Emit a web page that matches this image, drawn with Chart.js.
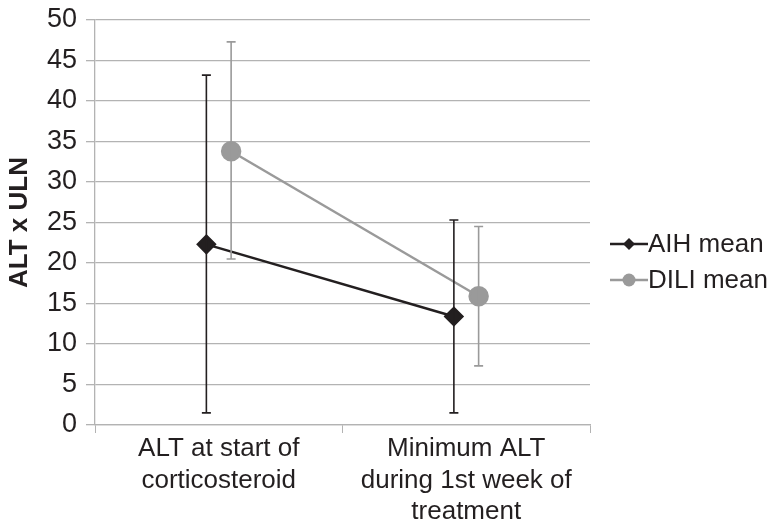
<!DOCTYPE html>
<html><head><meta charset="utf-8">
<script src="https://cdn.jsdelivr.net/npm/chart.js@4"></script>
<style>html,body{margin:0;padding:0;background:#fff}#wrap{width:776px;height:524px}</style>
</head><body><div id="wrap"><canvas id="c" width="776" height="524"></canvas></div>
<script>
const categories = [['ALT at start of', 'corticosteroid'], ['Minimum ALT', 'during 1st week of', 'treatment']];
const seriesNames = ['AIH mean', 'DILI mean'];
const aihMean = [22.3, 13.4];
const aihLow = [1.5, 1.5];
const aihHigh = [43.2, 25.3];
const diliMean = [33.8, 15.9];
const diliLow = [20.5, 7.3];
const diliHigh = [47.3, 24.5];
const yTicks = [0, 5, 10, 15, 20, 25, 30, 35, 40, 45, 50];

const shift = 0.05;
const FONT = '"Liberation Sans", Arial, sans-serif';
const TXT = '#231f20';
const GRID = '#b3b3b3';

function pts(vals, dx) { return vals.map((v, i) => ({x: i + 0.5 + dx, y: v})); }

const errorBars = {
  id: 'errorBars',
  afterDatasetsDraw(chart) {
    const ctx = chart.ctx, xs = chart.scales.xl, ys = chart.scales.y;
    const sets = [[aihLow, aihHigh, -shift, '#231f20'], [diliLow, diliHigh, shift, '#9a9a9a']];
    ctx.save();
    sets.forEach(([lo, hi, dx, col]) => {
      ctx.strokeStyle = col; ctx.lineWidth = 1.6;
      lo.forEach((l, i) => {
        const x = xs.getPixelForValue(i + 0.5 + dx);
        const y1 = ys.getPixelForValue(l), y2 = ys.getPixelForValue(hi[i]);
        ctx.beginPath();
        ctx.moveTo(x, y1); ctx.lineTo(x, y2);
        ctx.moveTo(x - 4.5, y1); ctx.lineTo(x + 4.5, y1);
        ctx.moveTo(x - 4.5, y2); ctx.lineTo(x + 4.5, y2);
        ctx.stroke();
      });
    });
    ctx.restore();
  }
};

const customLegend = {
  id: 'customLegend',
  afterDraw(chart) {
    const ctx = chart.ctx;
    const x0 = 610, ys = [244, 280];
    ctx.save();
    chart.data.datasets.forEach((ds, i) => {
      const y = ys[i];
      const cx = x0 + 19;
      ctx.strokeStyle = ds.borderColor; ctx.lineWidth = 2.5;
      ctx.beginPath(); ctx.moveTo(x0, y); ctx.lineTo(x0 + 38, y); ctx.stroke();
      ctx.fillStyle = ds.pointBackgroundColor;
      ctx.beginPath();
      if (i === 0) { ctx.moveTo(cx, y - 6); ctx.lineTo(cx + 6, y); ctx.lineTo(cx, y + 6); ctx.lineTo(cx - 6, y); ctx.closePath(); }
      else { ctx.arc(cx, y, 6.5, 0, Math.PI * 2); }
      ctx.fill();
      ctx.fillStyle = TXT; ctx.font = '26px ' + FONT; ctx.textBaseline = 'middle'; ctx.textAlign = 'left';
      ctx.fillText(seriesNames[i], x0 + 38, y + 1);
    });
    ctx.restore();
  }
};

new Chart(document.getElementById('c'), {
  type: 'line',
  data: {
    labels: categories,
    datasets: [
      {label: seriesNames[0], data: pts(aihMean, -shift), xAxisID: 'xl', borderColor: '#231f20', backgroundColor: '#231f20',
       pointBackgroundColor: '#231f20', pointBorderColor: '#231f20', pointStyle: 'rectRot', pointRadius: 8.5, borderWidth: 2.5, order: 2},
      {label: seriesNames[1], data: pts(diliMean, shift), xAxisID: 'xl', borderColor: '#9a9a9a', backgroundColor: '#9a9a9a',
       pointBackgroundColor: '#9a9a9a', pointBorderColor: '#9a9a9a', pointStyle: 'circle', pointRadius: 9, borderWidth: 2.5, order: 1}
    ]
  },
  options: {
    responsive: false, animation: false,
    layout: {padding: {top: 20, right: 186, left: 0, bottom: 0}},
    plugins: {legend: {display: false}, tooltip: {enabled: false}},
    scales: {
      x: {
        type: 'category', offset: true, position: 'bottom',
        grid: {display: true, drawOnChartArea: false, drawTicks: true, tickLength: 8, color: GRID, offset: true},
        border: {display: true, color: GRID, width: 1.3},
        ticks: {color: TXT, font: {family: FONT, size: 26, lineHeight: 1.22}, padding: 0, maxRotation: 0, autoSkip: false},
        afterFit(s) { s.height = 99; s.paddingLeft = 0; s.paddingRight = 0; }
      },
      xl: {type: 'linear', display: false, min: 0, max: 2},
      y: {
        min: 0, max: 50,
        afterBuildTicks(s) { s.ticks = yTicks.map(v => ({value: v})); },
        grid: {color: GRID, lineWidth: 1.3, tickLength: 9},
        border: {display: true, color: GRID, width: 1.3},
        ticks: {color: TXT, font: {family: FONT, size: 27}, padding: 9},
        title: {display: true, text: 'ALT x ULN', color: TXT, font: {family: FONT, size: 26, weight: 'bold'}, padding: {top: 4, bottom: 0}},
        afterFit(s) { s.width = 95; s.paddingTop = 0; s.paddingBottom = 0; }
      }
    }
  },
  plugins: [errorBars, customLegend]
});
</script></body></html>
